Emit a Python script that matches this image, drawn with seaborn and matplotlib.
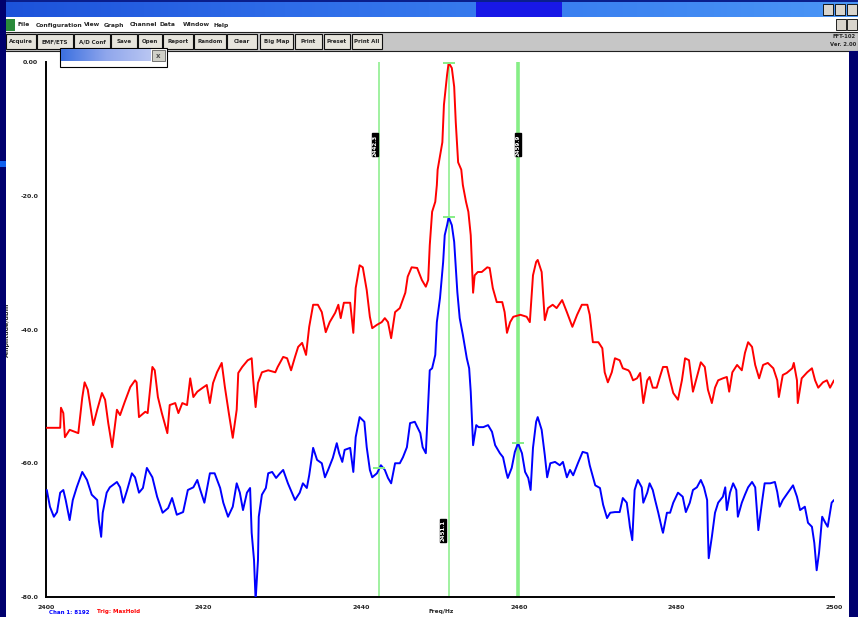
import numpy as np
import pandas as pd
import matplotlib
matplotlib.use("Agg")
import matplotlib.pyplot as plt
from matplotlib.patches import Rectangle
from matplotlib.colors import LinearSegmentedColormap
import seaborn as sns

# ---------------- data ----------------
start_mhz = 2400.0
tick_offsets = [0, 20, 40, 60, 80, 100]
tick_labels_x = ["2400", "2420", "2440", "2460", "2480", "2500"]
db_ticks = [0, -20, -40, -60, -80]
db_tick_labels = ["0.00", "-20.0", "-40.0", "-60.0", "-80.0"]

# Trace 2 (max hold, red): frequency offset in MHz and level in dBm
red_offset = [
    0.1, 1.8, 1.9, 2.2, 2.4, 3.0, 4.1, 4.6, 4.9, 5.3,
    6.0, 6.5, 7.1, 7.5, 7.9, 8.4, 9.0, 9.4, 10.0, 10.7,
    11.3, 11.5, 11.8, 12.6, 12.9, 13.5, 13.8, 14.2, 14.7, 15.4,
    15.7, 16.4, 16.8, 17.3, 17.9, 18.3, 18.7, 19.2, 19.9, 20.4,
    20.8, 21.2, 21.7, 22.3, 22.7, 23.2, 23.7, 24.2, 24.4, 24.9,
    25.6, 26.1, 26.3, 26.6, 26.9, 27.4, 28.2, 29.1, 29.4, 30.1,
    30.6, 31.1, 31.6, 32.0, 32.5, 33.0, 33.4, 33.9, 34.5, 35.0,
    35.5, 36.0, 36.7, 37.1, 37.4, 37.8, 38.6, 39.0, 39.3, 39.8,
    40.2, 40.7, 41.1, 41.4, 42.0, 42.6, 43.0, 43.4, 43.8, 44.3,
    44.9, 45.6, 45.9, 46.4, 47.1, 47.7, 48.2, 48.5, 48.7, 49.0,
    49.4, 49.6, 49.7, 50.3, 50.5, 50.9, 51.1, 51.5, 51.8, 52.0,
    52.3, 52.7, 52.9, 53.3, 53.6, 53.9, 54.1, 54.2, 54.4, 54.8,
    55.3, 56.0, 56.3, 56.7, 57.2, 57.9, 58.2, 58.5, 58.9, 59.3,
    60.2, 61.0, 61.4, 61.8, 62.2, 62.4, 62.9, 63.3, 63.7, 64.3,
    64.8, 65.5, 66.1, 66.8, 67.4, 68.0, 68.7, 69.0, 69.4, 70.1,
    70.6, 70.9, 71.3, 71.8, 72.2, 72.8, 73.2, 73.9, 74.1, 74.5,
    75.0, 75.4, 75.8, 76.3, 76.6, 77.0, 77.5, 77.9, 78.3, 78.8,
    79.2, 79.6, 80.2, 80.7, 81.1, 81.6, 82.1, 82.6, 83.1, 83.6,
    84.0, 84.5, 84.9, 85.3, 85.9, 86.4, 86.7, 87.1, 87.7, 88.3,
    88.7, 89.1, 89.6, 90.0, 90.5, 91.0, 91.6, 92.3, 92.8, 93.0,
    93.5, 94.0, 94.7, 94.9, 95.3, 95.4, 95.9, 96.6, 97.2, 97.6,
    98.0, 98.6, 99.1, 99.5, 100.0,
]
red_db = [
    -54.7, -54.7, -51.7, -52.5, -56.1, -55.0, -55.5, -50.2, -47.9, -49.0,
    -54.3, -52.0, -49.5, -50.5, -54.0, -57.6, -52.0, -52.8, -50.8, -48.6,
    -47.6, -47.9, -53.1, -52.3, -52.5, -45.6, -46.1, -50.1, -52.5, -55.5,
    -51.3, -51.0, -52.5, -51.0, -51.3, -47.3, -50.1, -49.3, -48.7, -48.3,
    -51.0, -48.0, -46.4, -45.0, -48.6, -52.5, -56.2, -52.0, -46.5, -45.6,
    -44.6, -44.3, -47.6, -51.6, -48.0, -46.4, -46.1, -46.4, -45.6, -44.1,
    -44.3, -46.1, -44.1, -42.6, -42.0, -43.8, -39.6, -36.3, -36.3, -37.4,
    -40.4, -38.9, -37.5, -36.3, -38.3, -36.0, -36.0, -40.5, -33.8, -30.4,
    -30.7, -34.1, -38.1, -39.8, -39.3, -38.9, -38.3, -38.9, -41.3, -37.4,
    -36.8, -34.5, -32.1, -30.7, -30.8, -32.6, -33.6, -32.6, -27.4, -22.4,
    -20.9, -18.4, -16.1, -12.0, -6.4, -1.9, -0.1, -0.9, -3.7, -9.0,
    -15.0, -16.1, -18.4, -20.9, -22.4, -25.9, -31.9, -34.5, -31.9, -31.4,
    -31.4, -30.7, -30.8, -33.8, -35.9, -35.9, -37.4, -40.5, -38.9, -38.1,
    -37.8, -38.1, -38.9, -31.9, -29.9, -29.6, -31.4, -38.6, -36.8, -36.3,
    -36.8, -35.6, -37.4, -39.6, -37.8, -36.3, -36.3, -37.8, -41.9, -41.9,
    -42.8, -46.4, -47.9, -46.4, -44.3, -44.6, -45.8, -46.1, -46.4, -47.6,
    -47.3, -46.5, -51.0, -47.6, -47.1, -48.7, -48.7, -47.1, -45.6, -45.6,
    -47.6, -49.5, -50.5, -47.6, -44.3, -44.6, -49.3, -47.1, -44.9, -45.6,
    -49.0, -51.0, -48.7, -47.6, -47.3, -47.1, -49.3, -46.4, -45.3, -46.1,
    -43.5, -41.9, -42.6, -45.3, -47.3, -45.3, -45.0, -45.8, -47.6, -50.1,
    -46.8, -46.5, -45.8, -45.0, -47.6, -51.0, -47.3, -46.4, -45.8, -47.6,
    -48.7, -47.9, -47.6, -48.7, -47.6,
]

# Trace 1 (live, blue)
blue_offset = [
    0.1, 0.5, 1.0, 1.4, 1.8, 2.2, 2.5, 3.0, 3.4, 3.9,
    4.6, 5.2, 5.8, 6.5, 6.7, 7.0, 7.2, 7.7, 8.1, 9.0,
    9.4, 9.8, 10.3, 10.9, 11.3, 11.8, 12.3, 12.8, 13.5, 14.1,
    14.8, 15.5, 16.0, 16.6, 17.4, 18.0, 18.7, 19.2, 19.5, 20.1,
    20.8, 21.4, 22.1, 22.5, 23.1, 23.7, 24.2, 24.6, 25.0, 25.5,
    25.9, 26.1, 26.4, 26.6, 26.9, 27.0, 27.4, 27.9, 28.2, 28.7,
    29.2, 29.7, 30.1, 30.7, 31.6, 32.2, 32.6, 33.1, 33.4, 33.9,
    34.4, 35.0, 35.4, 35.8, 36.4, 36.9, 37.2, 37.6, 37.9, 38.6,
    39.0, 39.3, 39.8, 40.4, 40.7, 41.1, 41.4, 42.0, 42.5, 43.0,
    43.4, 43.8, 44.3, 44.9, 45.3, 45.8, 46.2, 46.8, 47.5, 47.8,
    48.2, 48.5, 48.7, 49.0, 49.4, 49.6, 50.0, 50.4, 50.6, 50.9,
    51.1, 51.5, 51.8, 52.2, 52.5, 52.9, 53.4, 53.7, 53.9, 54.1,
    54.2, 54.6, 54.9, 55.5, 56.1, 56.6, 57.0, 57.6, 58.0, 58.4,
    58.6, 59.1, 59.5, 59.9, 60.4, 60.8, 61.2, 61.5, 61.8, 62.2,
    62.4, 62.9, 63.3, 63.6, 64.0, 64.6, 65.2, 65.6, 66.1, 66.5,
    66.9, 67.5, 68.1, 68.7, 69.0, 69.7, 70.3, 70.7, 71.2, 71.6,
    72.2, 72.8, 73.2, 73.7, 74.0, 74.1, 74.4, 74.7, 75.1, 75.6,
    75.8, 76.3, 76.6, 77.0, 77.3, 77.7, 78.2, 78.3, 78.8, 79.2,
    79.6, 80.2, 80.8, 81.2, 81.7, 82.1, 82.6, 83.1, 83.5, 83.9,
    84.0, 84.1, 84.5, 84.9, 85.3, 85.9, 86.2, 86.4, 86.8, 87.2,
    87.6, 87.8, 88.3, 88.7, 89.1, 89.6, 90.0, 90.4, 90.9, 91.2,
    91.9, 92.5, 92.8, 93.1, 93.5, 94.2, 94.8, 95.3, 95.7, 96.3,
    96.7, 97.2, 97.5, 97.8, 98.1, 98.5, 98.9, 99.2, 99.7, 100.0,
]
blue_db = [
    -64.0, -66.5, -68.0, -67.3, -64.4, -64.0, -65.5, -68.5, -65.5, -63.6,
    -61.3, -62.5, -64.7, -65.5, -68.5, -71.0, -67.4, -64.4, -63.6, -62.8,
    -63.6, -65.9, -64.0, -61.5, -62.1, -64.4, -63.7, -60.7, -62.1, -65.0,
    -67.4, -66.7, -65.2, -67.7, -67.3, -64.0, -63.6, -62.5, -63.7, -65.9,
    -61.5, -61.5, -63.7, -65.9, -68.0, -66.5, -63.0, -64.4, -67.0, -64.4,
    -63.7, -70.4, -74.5, -80.5, -74.5, -68.0, -64.7, -63.7, -61.5, -61.3,
    -62.2, -61.5, -61.0, -63.0, -65.5, -64.4, -63.0, -63.7, -61.8, -57.7,
    -59.5, -60.0, -62.1, -61.0, -59.2, -57.0, -58.5, -59.8, -58.0, -57.7,
    -61.3, -56.1, -53.1, -53.8, -57.6, -61.0, -62.1, -61.5, -60.3, -61.0,
    -62.2, -63.0, -60.0, -60.0, -59.1, -57.6, -54.0, -53.8, -55.5, -57.6,
    -58.5, -51.0, -46.1, -45.8, -43.8, -38.9, -35.3, -29.9, -25.9, -24.4,
    -23.2, -24.4, -26.9, -34.4, -38.3, -40.8, -44.3, -45.8, -49.3, -54.7,
    -57.3, -54.3, -54.6, -54.6, -54.3, -55.3, -57.3, -58.5, -59.1, -61.3,
    -62.2, -60.7, -58.3, -57.0, -58.5, -61.3, -62.2, -64.0, -57.7, -53.8,
    -53.1, -55.0, -58.8, -62.1, -60.0, -59.8, -60.3, -59.8, -62.1, -61.0,
    -61.8, -60.0, -58.3, -58.5, -60.3, -63.3, -63.7, -66.2, -68.2, -67.4,
    -67.3, -67.3, -65.2, -65.9, -68.5, -69.5, -71.5, -64.0, -62.5, -63.6,
    -65.9, -64.4, -63.0, -64.0, -65.5, -67.4, -70.0, -70.4, -67.4, -67.4,
    -65.9, -64.4, -65.0, -67.3, -65.9, -64.0, -63.6, -62.5, -63.6, -65.5,
    -70.4, -74.2, -71.0, -67.4, -65.9, -65.0, -63.6, -67.0, -64.4, -63.0,
    -64.0, -68.0, -65.9, -64.7, -63.6, -62.8, -63.6, -70.0, -65.5, -63.0,
    -63.0, -62.8, -64.3, -66.5, -65.5, -64.3, -63.3, -65.0, -67.0, -66.5,
    -68.9, -69.5, -71.9, -76.0, -73.4, -68.0, -68.9, -69.5, -65.9, -65.5,
]

# Marker frequencies (offset MHz): M1 left, M2 at the peak, M3 right
marker_offsets = [42.3, 51.1, 59.9]

# ---------------- style ----------------
sns.set_theme(style="white")
plt.rcParams["font.family"] = ["DejaVu Sans"]

W, H = 858, 617
fig = plt.figure(figsize=(W / 100, H / 100), dpi=100)
fig.patch.set_facecolor("white")


def box(x0, y0, x1, y1, fc, ec="none", lw=0.0, z=1):
    r = Rectangle((x0 / W, 1 - y1 / H), (x1 - x0) / W, (y1 - y0) / H,
                  transform=fig.transFigure, facecolor=fc, edgecolor=ec,
                  linewidth=lw, zorder=z)
    fig.add_artist(r)


def ftext(x, y, s, **kw):
    kw.setdefault("fontsize", 4.5)
    kw.setdefault("fontweight", "bold")
    kw.setdefault("va", "center")
    fig.text(x / W, 1 - y / H, s, **kw)


# title bar with gradient
tax = fig.add_axes([0, 1 - 17 / H, 1, 17 / H])
grad = LinearSegmentedColormap.from_list(
    "tb", ["#1C52DA", "#2E6CE8", "#3A80F0", "#4B96F6"])
tax.imshow(np.linspace(0, 1, 256)[None, :], aspect="auto", cmap=grad,
           extent=[0, 1, 0, 1])
tax.set_axis_off()
box(0, 0, W, 2, "#0A1E8C", z=5)
box(476, 2, 562, 17, "#1818E6", z=5)
for bx in (823, 835, 847):
    box(bx, 4, bx + 10, 15, "#D8D4CC", ec="black", lw=0.6, z=6)

# menu bar
box(6, 19, 15, 31, "#2A8A3A", z=5)
menu = [("File", 18), ("Configuration", 36), ("View", 84), ("Graph", 104),
        ("Channel", 130), ("Data", 160), ("Window", 183), ("Help", 214)]
for s, x in menu:
    ftext(x, 25, s, fontsize=4.3)
box(836, 19, 846, 30, "#D8D4CC", ec="black", lw=0.6, z=6)
box(847, 19, 857, 30, "#D8D4CC", ec="black", lw=0.6, z=6)

# toolbar
box(0, 32, W, 51, "#C6C6C6", ec="#202020", lw=0.8, z=2)
buttons = [("Acquire", 6, 36), ("EMF/ETS", 37, 73), ("A/D Conf", 74, 110),
           ("Save", 111, 137), ("Open", 138, 162), ("Report", 163, 193),
           ("Random", 194, 226), ("Clear", 227, 257), ("Big Map", 260, 293),
           ("Print", 295, 322), ("Preset", 324, 350), ("Print All", 352, 382)]
for s, a, b in buttons:
    box(a, 34, b, 49, "#E6E4DC", ec="#101010", lw=0.8, z=3)
    ftext((a + b) / 2, 41.5, s, ha="center", fontsize=4.0, zorder=4)
ftext(856, 37, "FFT-102", ha="right", fontsize=3.8, zorder=4)
ftext(856, 45, "Ver. 2.00", ha="right", fontsize=3.8, zorder=4)

# small floating panel under the toolbar
box(60, 48, 167, 67, "white", ec="black", lw=0.8, z=6)
pax = fig.add_axes([61 / W, 1 - 61 / H, 90 / W, 12 / H], zorder=7)
pcm = LinearSegmentedColormap.from_list("pn", ["#3C70E0", "#8FA6EC", "#B9C6F2"])
pax.imshow(np.linspace(0, 1, 128)[None, :], aspect="auto", cmap=pcm)
pax.set_axis_off()
box(152, 50, 165, 61, "#D0D0C8", ec="#606060", lw=0.6, z=8)
ftext(158.5, 55.5, "x", ha="center", fontsize=5, color="#505050", zorder=9)

# side strips of the desktop
box(0, 0, 6, H, "#00006E", z=10)
box(0, 161, 6, 167, "#1060F0", z=11)
box(849, 51, W, H, "#00006E", z=10)

# ---------------- spectrum plot ----------------
ax = fig.add_axes([46 / W, 1 - 597 / H, (834 - 46) / W, (597 - 62) / H])
ax.set_facecolor("white")

red_df = pd.DataFrame({"freq": start_mhz + np.array(red_offset), "level": red_db})
blue_df = pd.DataFrame({"freq": start_mhz + np.array(blue_offset), "level": blue_db})

marker_freqs = start_mhz + np.array(marker_offsets)
green = "#86EE86"
for f, lw in zip(marker_freqs, [1.1, 1.1, 2.6]):
    ax.axvline(f, color=green, lw=lw, zorder=1)

sns.lineplot(data=red_df, x="freq", y="level", color="#FF0000", lw=1.4,
             estimator=None, sort=False, ax=ax, zorder=3)
sns.lineplot(data=blue_df, x="freq", y="level", color="#0000FF", lw=1.4,
             estimator=None, sort=False, ax=ax, zorder=3)

# marker crossings on each trace
red_at = np.interp(marker_freqs, red_df["freq"], red_df["level"])
blue_at = np.interp(marker_freqs, blue_df["freq"], blue_df["level"])
ax.plot(marker_freqs[1:2], red_at[1:2], ls="none", marker="_", ms=9, mew=1.4,
        color=green, zorder=4)
ax.plot(marker_freqs, blue_at, ls="none", marker="_", ms=9, mew=1.4,
        color=green, zorder=4)

# marker read-outs
label_y = [-12.4, -70.0, -12.4]
label_dx = [-3, -4, 0]
for f, ly, dx in zip(marker_freqs, label_y, label_dx):
    ax.annotate(f"{f:.1f}", (f, ly), xytext=(dx, 0), textcoords="offset points",
                rotation=90, ha="center", va="center", fontsize=4.0,
                fontweight="bold", color="white", zorder=5,
                bbox=dict(boxstyle="square,pad=0.15", fc="black", ec="black"))

ax.set_xlim(start_mhz + tick_offsets[0], start_mhz + tick_offsets[-1])
ax.set_ylim(db_ticks[-1], db_ticks[0])
ax.set_xticks(start_mhz + np.array(tick_offsets))
ax.set_xticklabels(tick_labels_x)
ax.set_yticks(db_ticks)
ax.set_yticklabels(db_tick_labels)
ax.tick_params(axis="both", direction="out", length=4, width=1.1,
               color="black", labelsize=4.5, pad=1.5)
for lab in ax.get_xticklabels() + ax.get_yticklabels():
    lab.set_fontweight("bold")
ax.set_xlabel("")
ax.set_ylabel("")
for side in ("top", "right"):
    ax.spines[side].set_visible(False)
for side in ("left", "bottom"):
    ax.spines[side].set_color("black")
    ax.spines[side].set_linewidth(1.4)
ax.grid(False)

# axis captions and legend
ftext(441, 611, "Freq/Hz", ha="center", fontsize=4.2)
fig.text(7 / W, 1 - 330 / H, "Amplitude/dBm", rotation=90, ha="center",
         va="center", fontsize=4.5, fontweight="bold", zorder=3)
ftext(49, 612, "Chan 1: 8192", ha="left", fontsize=4.0, color="#0000FF")
ftext(97, 612, "Trig: MaxHold", ha="left", fontsize=4.0, color="#FF0000")

fig.savefig("out.png", dpi=100)
